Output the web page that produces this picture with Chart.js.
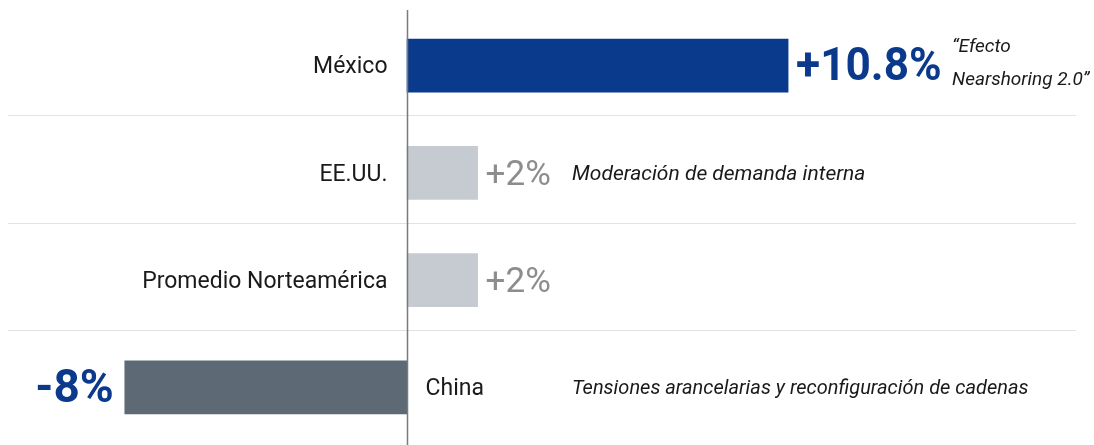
<!DOCTYPE html>
<html>
<head>
<meta charset="utf-8">
<script src="https://cdn.jsdelivr.net/npm/chart.js@4"></script>
<style>
html,body{margin:0;padding:0;background:#ffffff;}
#wrap{width:1094px;height:445px;position:relative;}
</style>
</head>
<body>
<div id="wrap"><canvas id="c" width="1094" height="445"></canvas></div>
<script>
const categories = ["México", "EE.UU.", "Promedio Norteamérica", "China"];
const values = [10.8, 2, 2, -8];
const valueLabels = ["+10.8%", "+2%", "+2%", "-8%"];
const notes = [["“Efecto", "Nearshoring 2.0”"], ["Moderación de demanda interna"], [], ["Tensiones arancelarias y reconfiguración de cadenas"]];
const barColors = ["#0a3a8c", "#c6cad1", "#c6cad1", "#5d6a76"];

const FONT = "Roboto, 'Liberation Sans', sans-serif";

function drawScaled(ctx, text, x, y, sx, align) {
  ctx.save();
  ctx.translate(x, y);
  ctx.scale(sx, 1);
  ctx.textAlign = align;
  ctx.fillText(text, 0, 0);
  const w = ctx.measureText(text).width * sx;
  ctx.restore();
  return w;
}

const labelPlugin = {
  id: 'labelPlugin',
  beforeDatasetsDraw(chart) {
    const ctx = chart.ctx;
    const y = chart.scales.y;
    ctx.save();
    ctx.strokeStyle = '#e2e2e2';
    ctx.lineWidth = 1;
    for (let i = 0; i < categories.length - 1; i++) {
      const yy = Math.round((y.getPixelForValue(i) + y.getPixelForValue(i + 1)) / 2 - 4) + 0.5;
      ctx.beginPath();
      ctx.moveTo(8, yy);
      ctx.lineTo(1076, yy);
      ctx.stroke();
    }
    ctx.restore();
  },
  afterDatasetsDraw(chart) {
    const ctx = chart.ctx;
    const x = chart.scales.x;
    const meta = chart.getDatasetMeta(0);
    const zero = Math.round(x.getPixelForValue(0)) + 0.5;
    ctx.save();
    ctx.strokeStyle = '#7a7a7a';
    ctx.lineWidth = 1.5;
    ctx.beginPath();
    ctx.moveTo(zero, 10);
    ctx.lineTo(zero, 445);
    ctx.stroke();

    meta.data.forEach((bar, i) => {
      const v = values[i];
      const cy = bar.y;
      ctx.textBaseline = 'middle';
      // category label
      ctx.fillStyle = '#1a1a1a';
      ctx.font = '23px ' + FONT;
      if (v >= 0) {
        ctx.textAlign = 'right';
        ctx.fillText(categories[i], zero - 20, cy + 2);
      } else {
        ctx.textAlign = 'left';
        ctx.fillText(categories[i], zero + 18, cy + 2);
      }
      // value label
      if (i === 0 || v < 0) {
        ctx.font = 'bold 46px ' + FONT;
        ctx.fillStyle = '#0b3a8c';
      } else {
        ctx.font = '35px ' + FONT;
        ctx.fillStyle = '#8d8d8d';
      }
      if (v >= 0) {
        drawScaled(ctx, valueLabels[i], bar.x + 8, cy + 3, i === 0 ? 0.96 : 1, 'left');
      } else {
        drawScaled(ctx, valueLabels[i], bar.x - 11, cy + 3, 1.0, 'right');
      }
      // notes
      const lines = notes[i];
      if (lines.length) {
        ctx.fillStyle = '#1a1a1a';
        ctx.textAlign = 'left';
        if (lines.length > 1) {
          ctx.font = 'italic 19px ' + FONT;
          ctx.fillText(lines[0], 952, cy - 18);
          ctx.fillText(lines[1], 952, cy + 15);
        } else {
          ctx.font = 'italic ' + (i === 1 ? 21 : 20) + 'px ' + FONT;
          ctx.fillText(lines[0], 572, cy + 2);
        }
      }
    });
    ctx.restore();
  }
};

new Chart(document.getElementById('c'), {
  type: 'bar',
  data: {
    labels: categories,
    datasets: [{
      data: values,
      backgroundColor: barColors,
      borderWidth: 0,
      barThickness: 53
    }]
  },
  options: {
    indexAxis: 'y',
    responsive: false,
    animation: false,
    layout: { padding: { left: 8, right: 18, top: 12, bottom: 4 } },
    plugins: { legend: { display: false }, tooltip: { enabled: false } },
    scales: {
      x: { display: false, min: -11.31, max: 18.96 },
      y: { display: false }
    }
  },
  plugins: [labelPlugin]
});
</script>
</body>
</html>
